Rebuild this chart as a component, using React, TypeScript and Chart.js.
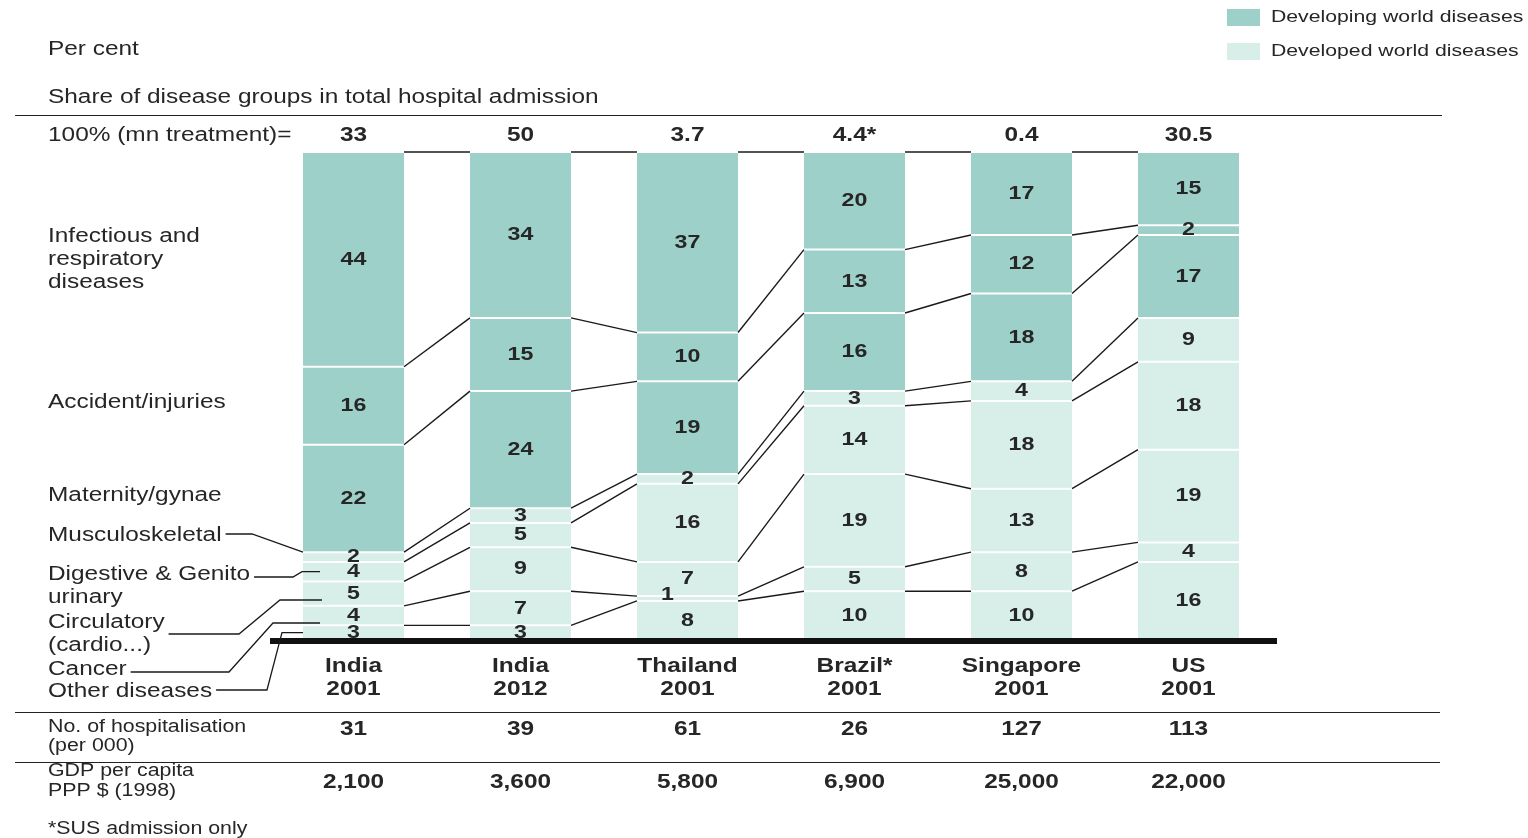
import { useEffect, useRef } from "react";
import { Chart, registerables } from "chart.js";

Chart.register(...registerables);

// Countries / years, bottom-to-top disease groups, and per-country figures
const categories = [
  ["India", "2001"],
  ["India", "2012"],
  ["Thailand", "2001"],
  ["Brazil*", "2001"],
  ["Singapore", "2001"],
  ["US", "2001"],
];
const groupNames = [
  "Other diseases",
  "Cancer",
  "Circulatory (cardio...)",
  "Digestive & Genito urinary",
  "Musculoskeletal",
  "Maternity/gynae",
  "Accident/injuries",
  "Infectious and respiratory diseases",
];
const otherDiseases = [3, 3, 8, 10, 10, 16];
const cancer = [4, 7, 1, 5, 8, 4];
const circulatory = [5, 9, 7, 19, 13, 19];
const digestiveGenito = [4, 5, 16, 14, 18, 18];
const musculoskeletal = [2, 3, 2, 3, 4, 9];
const maternity = [22, 24, 19, 16, 18, 17];
const accidents = [16, 15, 10, 13, 12, 2];
const infectious = [44, 34, 37, 20, 17, 15];
const totalTreatments = ["33", "50", "3.7", "4.4*", "0.4", "30.5"];
const hospitalisations = ["31", "39", "61", "26", "127", "113"];
const gdpPerCapita = ["2,100", "3,600", "5,800", "6,900", "25,000", "22,000"];

const series = [
  otherDiseases,
  cancer,
  circulatory,
  digestiveGenito,
  musculoskeletal,
  maternity,
  accidents,
  infectious,
];

const DARK = "#9dd0c8";
const LIGHT = "#d7eee9";
const TEXT = "#262626";
const FONT = '"Liberation Sans", Arial, Helvetica, sans-serif';
const SX = 1.22; // horizontal stretch of all lettering

function drawText(
  ctx: CanvasRenderingContext2D,
  s: string,
  x: number,
  y: number,
  size: number,
  bold = false,
  align: CanvasTextAlign = "left"
) {
  ctx.save();
  ctx.font = `${bold ? "bold " : ""}${size}px ${FONT}`;
  ctx.fillStyle = TEXT;
  ctx.textBaseline = "middle";
  ctx.textAlign = align;
  ctx.translate(x, y);
  ctx.scale(SX, 1);
  ctx.fillText(s, 0, 0);
  ctx.restore();
}

function textWidth(ctx: CanvasRenderingContext2D, s: string, size: number, bold = false) {
  ctx.save();
  ctx.font = `${bold ? "bold " : ""}${size}px ${FONT}`;
  const w = ctx.measureText(s).width * SX;
  ctx.restore();
  return w;
}

function hLine(ctx: CanvasRenderingContext2D, x1: number, x2: number, y: number, w = 1.2) {
  ctx.save();
  ctx.strokeStyle = "#222";
  ctx.lineWidth = w;
  ctx.beginPath();
  ctx.moveTo(x1, y);
  ctx.lineTo(x2, y);
  ctx.stroke();
  ctx.restore();
}

// Leader lines from the lower left-hand labels into the first column
const leaders = [
  { ds: 4, text: "Musculoskeletal", y: 534, elbow: -51, knee: 0, end: 0, frac: 1.0 },
  { ds: 3, text: "Digestive & Genito", y: 577, elbow: -10, knee: -1, end: 17, frac: 0.5 },
  { ds: 2, text: "Circulatory", y: 634, elbow: -64, knee: -23, end: 19, frac: 0.24 },
  { ds: 1, text: "Cancer", y: 672, elbow: -74, knee: -30, end: 17, frac: 0.12 },
  { ds: 0, text: "Other diseases", y: 690, elbow: -36, knee: -21, end: 0, frac: 0.5 },
];

const decorations = {
  id: "decorations",
  afterDatasetsDraw(chart: any) {
    const ctx: CanvasRenderingContext2D = chart.ctx;
    const area = chart.chartArea;
    const metas = series.map((_, k) => chart.getDatasetMeta(k));
    const bar = (k: number, i: number) => metas[k].data[i] as any;

    // connectors between matching segment boundaries of neighbouring columns
    ctx.save();
    ctx.strokeStyle = "#1a1a1a";
    ctx.lineWidth = 1.4;
    for (let i = 0; i < categories.length - 1; i++) {
      for (let k = 0; k < series.length; k++) {
        const a = bar(k, i);
        const b = bar(k, i + 1);
        ctx.beginPath();
        ctx.moveTo(a.x + a.width / 2, a.y);
        ctx.lineTo(b.x - b.width / 2, b.y);
        ctx.stroke();
      }
    }
    ctx.restore();

    // segment values
    series.forEach((vals, k) => {
      vals.forEach((v, i) => {
        const el = bar(k, i);
        const cy = (el.y + el.base) / 2;
        const small = v < 2;
        drawText(ctx, String(v), el.x + (small ? -20 : 0), cy + (small ? -4 : 0), 19, true, "center");
      });
    });

    // heavy baseline
    ctx.save();
    ctx.fillStyle = "#111";
    ctx.fillRect(area.left, area.bottom - 2, area.right - area.left + 5, 6);
    ctx.restore();

    // left-hand group labels
    const first = (k: number) => bar(k, 0);
    const mid = (k: number) => (first(k).y + first(k).base) / 2;
    const lx = 48;
    const infY = mid(7);
    drawText(ctx, "Infectious and", lx, infY - 23, 20);
    drawText(ctx, "respiratory", lx, infY, 20);
    drawText(ctx, "diseases", lx, infY + 23, 20);
    drawText(ctx, "Accident/injuries", lx, mid(6) - 3, 20);
    drawText(ctx, "Maternity/gynae", lx, mid(5) - 3, 20);
    drawText(ctx, "Musculoskeletal", lx, 535, 20);
    drawText(ctx, "Digestive & Genito", lx, 574, 20);
    drawText(ctx, "urinary", lx, 597, 20);
    drawText(ctx, "Circulatory", lx, 622, 20);
    drawText(ctx, "(cardio...)", lx, 645, 20);
    drawText(ctx, "Cancer", lx, 669, 20);
    drawText(ctx, "Other diseases", lx, 691, 20);

    ctx.save();
    ctx.strokeStyle = "#1a1a1a";
    ctx.lineWidth = 1.3;
    leaders.forEach((ld) => {
      const el = first(ld.ds);
      const left = el.x - el.width / 2;
      const ty = el.base + (el.y - el.base) * ld.frac;
      const sx = lx + textWidth(ctx, ld.text, 20) + 4;
      ctx.beginPath();
      ctx.moveTo(sx, ld.y);
      ctx.lineTo(left + ld.elbow, ld.y);
      ctx.lineTo(left + ld.knee, ty);
      ctx.lineTo(left + ld.end, ty);
      ctx.stroke();
    });
    ctx.restore();

    // header
    drawText(ctx, "Per cent", lx, 49, 20);
    drawText(ctx, "Share of disease groups in total hospital admission", lx, 97, 20);
    hLine(ctx, 15, 1442, 115.5);
    drawText(ctx, "100% (mn treatment)=", lx, 135, 20);

    const xs = categories.map((_, i) => bar(0, i).x);
    xs.forEach((x, i) => {
      drawText(ctx, totalTreatments[i], x, 135, 20, true, "center");
      drawText(ctx, categories[i][0], x, 666, 20, true, "center");
      drawText(ctx, categories[i][1], x, 689, 20, true, "center");
      drawText(ctx, hospitalisations[i], x, 729, 20, true, "center");
      drawText(ctx, gdpPerCapita[i], x, 782, 20, true, "center");
    });

    // lower table
    hLine(ctx, 15, 1440, 712.5);
    drawText(ctx, "No. of hospitalisation", lx, 727, 17.5);
    drawText(ctx, "(per 000)", lx, 746, 17.5);
    hLine(ctx, 15, 1440, 762.5);
    drawText(ctx, "GDP per capita", lx, 771, 17.5);
    drawText(ctx, "PPP $ (1998)", lx, 791, 17.5);
    drawText(ctx, "*SUS admission only", lx, 829, 17.5);

    // legend
    ctx.save();
    ctx.fillStyle = DARK;
    ctx.fillRect(1227, 9, 33, 17);
    ctx.fillStyle = LIGHT;
    ctx.fillRect(1227, 43, 33, 17);
    ctx.restore();
    drawText(ctx, "Developing world diseases", 1271, 17, 17.4);
    drawText(ctx, "Developed world diseases", 1271, 51, 17.4);
  },
};

export default function App() {
  const canvasRef = useRef<HTMLCanvasElement | null>(null);

  useEffect(() => {
    const canvas = canvasRef.current;
    if (!canvas) return;
    const chart = new Chart(canvas, {
      type: "bar",
      data: {
        labels: categories.map((c) => c.join(" ")),
        datasets: series.map((vals, k) => ({
          label: groupNames[k],
          data: vals,
          backgroundColor: k >= 5 ? DARK : LIGHT,
          borderColor: "#ffffff",
          borderWidth: { top: 1, bottom: 1, left: 0, right: 0 },
          borderSkipped: false,
          inflateAmount: 0,
          barPercentage: 0.605,
          categoryPercentage: 1,
        })),
      },
      options: {
        responsive: false,
        animation: false,
        devicePixelRatio: 1,
        layout: { padding: { left: 270, right: 256, top: 152, bottom: 198 } },
        scales: {
          x: { stacked: true, display: false },
          y: { stacked: true, display: false, min: 0, max: 100 },
        },
        plugins: { legend: { display: false }, tooltip: { enabled: false } },
      },
      plugins: [decorations],
    } as any);
    return () => chart.destroy();
  }, []);

  return (
    <div style={{ position: "fixed", left: 0, top: 0, width: 1528, height: 838, background: "#fff" }}>
      <canvas ref={canvasRef} width={1528} height={838} style={{ display: "block" }} />
    </div>
  );
}
